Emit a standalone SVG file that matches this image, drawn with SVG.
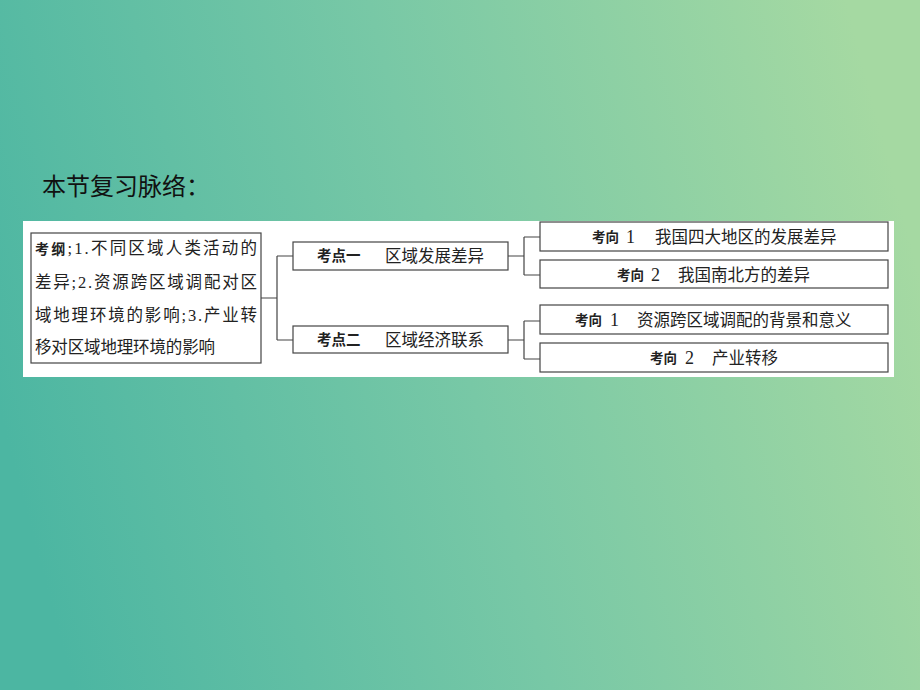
<svg xmlns="http://www.w3.org/2000/svg" width="920" height="690" viewBox="0 0 920 690">
<defs>
<linearGradient id="bg" x1="0" y1="0.6" x2="1" y2="0.4">
<stop offset="0" stop-color="#4cb6a2"/>
<stop offset="0.5" stop-color="#78c8a6"/>
<stop offset="1" stop-color="#a5d9a2"/>
</linearGradient>
<style>
.box{fill:#fff;stroke:#444;stroke-width:1.2}
.ln{fill:none;stroke:#444;stroke-width:1.2}
.t{font-family:"Liberation Serif","Noto Sans CJK SC",serif;font-size:16.5px;fill:#222}
.n{font-family:"Liberation Serif",serif;font-size:18px;fill:#222}
.b{font-family:"Noto Sans CJK SC",sans-serif;font-weight:bold;font-size:13.5px;fill:#222}
.bp{font-family:"Noto Sans CJK SC",sans-serif;font-weight:bold;font-size:14.5px;fill:#222}
.title{font-family:"Noto Sans CJK SC",sans-serif;font-size:24px;fill:#111}
</style>
</defs>
<rect width="920" height="690" fill="url(#bg)"/>
<text class="title" x="42" y="195">本节复习脉络：</text>
<rect x="23" y="221" width="871" height="156" fill="#fff"/>
<g id="connectors">
<path class="ln" d="M261 298 H277 M277 256 V340 M277 256 H293 M277 340 H293"/>
<path class="ln" d="M508 256 H524 M524 237 V275 M524 237 H540 M524 275 H540"/>
<path class="ln" d="M508 340 H524 M524 321 V359 M524 321 H540 M524 359 H540"/>
</g>
<g id="node-kaogang">
<rect class="box" x="31" y="233" width="230" height="130"/>
<text class="t" x="35" y="254" textLength="222" lengthAdjust="spacing"><tspan class="bp" style="font-size:14px">考纲</tspan>;1.不同区域人类活动的</text>
<text class="t" x="35" y="288" textLength="222" lengthAdjust="spacing">差异;2.资源跨区域调配对区</text>
<text class="t" x="35" y="321" textLength="222" lengthAdjust="spacing">域地理环境的影响;3.产业转</text>
<text class="t" x="35" y="353" textLength="180" lengthAdjust="spacing">移对区域地理环境的影响</text>
</g>
<g id="node-kaodian1">
<rect class="box" x="293" y="242" width="215" height="28"/>
<text class="bp" x="317" y="261">考点一</text>
<text class="t" x="385" y="262">区域发展差异</text>
</g>
<g id="node-kaodian2">
<rect class="box" x="293" y="326" width="215" height="27"/>
<text class="bp" x="317" y="345">考点二</text>
<text class="t" x="385" y="346">区域经济联系</text>
</g>
<g id="node-d1-1">
<rect class="box" x="540" y="222" width="348" height="29"/>
<text class="b" x="592" y="242">考向</text><text class="n" x="626" y="243">1</text>
<text class="t" x="655" y="243">我国四大地区的发展差异</text>
</g>
<g id="node-d1-2">
<rect class="box" x="540" y="260" width="348" height="28"/>
<text class="b" x="617" y="280">考向</text><text class="n" x="651" y="281">2</text>
<text class="t" x="678" y="281">我国南北方的差异</text>
</g>
<g id="node-d2-1">
<rect class="box" x="540" y="305" width="348" height="29"/>
<text class="b" x="575" y="325">考向</text><text class="n" x="610" y="326">1</text>
<text class="t" x="637" y="326">资源跨区域调配的背景和意义</text>
</g>
<g id="node-d2-2">
<rect class="box" x="540" y="343" width="348" height="29"/>
<text class="b" x="650" y="363">考向</text><text class="n" x="685" y="364">2</text>
<text class="t" x="712" y="364">产业转移</text>
</g>
</svg>
